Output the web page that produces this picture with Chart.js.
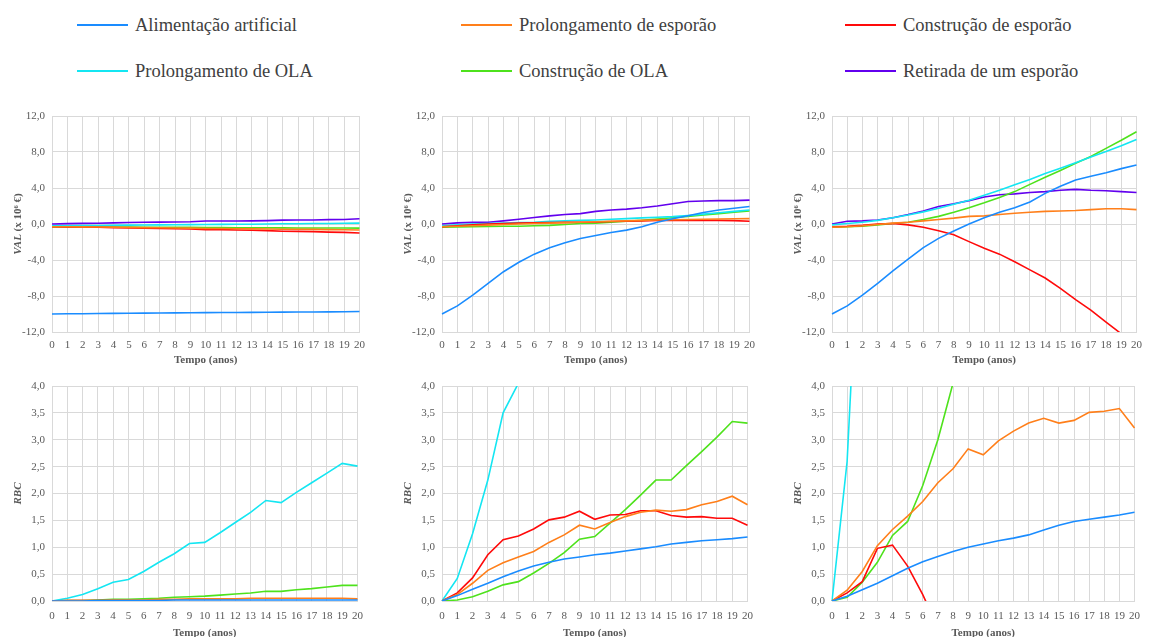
<!DOCTYPE html>
<html lang="pt">
<head>
<meta charset="utf-8">
<title>VAL e RBC das intervenções</title>
<script src="https://cdn.jsdelivr.net/npm/chart.js@4.4.1/dist/chart.umd.min.js"></script>
<style>
  html, body { margin: 0; padding: 0; background: #ffffff; }
  body { position: relative; width: 1149px; height: 637px; overflow: hidden; font-family: "Liberation Serif", "Times New Roman", serif; }
  .panel { position: absolute; }
  .leg { position: absolute; height: 24px; display: flex; align-items: center; white-space: nowrap; }
  .leg .swatch { width: 51px; height: 2px; margin-right: 7px; }
  .leg .txt { font-size: 18.5px; color: #404040; line-height: 24px; }
</style>
</head>
<body>
<div id="legend"></div>
<canvas id="c1" class="panel" width="372" height="267" style="left:0px;top:100px"></canvas>
<canvas id="c2" class="panel" width="372" height="267" style="left:390px;top:100px"></canvas>
<canvas id="c3" class="panel" width="369" height="267" style="left:780px;top:100px"></canvas>
<canvas id="c4" class="panel" width="372" height="270" style="left:0px;top:370px"></canvas>
<canvas id="c5" class="panel" width="372" height="270" style="left:390px;top:370px"></canvas>
<canvas id="c6" class="panel" width="369" height="270" style="left:780px;top:370px"></canvas>

<script>
// ---- categories / tick labels ----
const years = ['0','1','2','3','4','5','6','7','8','9','10','11','12','13','14','15','16','17','18','19','20'];
const seriesNames = ['Alimentação artificial','Prolongamento de esporão','Construção de esporão',
                     'Prolongamento de OLA','Construção de OLA','Retirada de um esporão'];
const valTicks = [-12, -8, -4, 0, 4, 8, 12];
const rbcTicks = [0, 0.5, 1, 1.5, 2, 2.5, 3, 3.5, 4];

// ---- VAL (x 10^6 €), cenário 1 ----
const val1Alim      = [-10.0,-9.98,-9.97,-9.95,-9.93,-9.92,-9.90,-9.89,-9.87,-9.86,-9.85,-9.84,-9.83,-9.82,-9.80,-9.79,-9.78,-9.77,-9.76,-9.75,-9.73];
const val1ProlEsp   = [-0.30,-0.30,-0.32,-0.33,-0.35,-0.38,-0.40,-0.42,-0.44,-0.46,-0.50,-0.50,-0.52,-0.54,-0.56,-0.58,-0.59,-0.60,-0.62,-0.64,-0.66];
const val1ConstEsp  = [-0.30,-0.32,-0.34,-0.36,-0.40,-0.45,-0.48,-0.50,-0.53,-0.56,-0.62,-0.63,-0.66,-0.70,-0.74,-0.80,-0.82,-0.85,-0.90,-0.93,-1.00];
const val1ProlOla   = [-0.20,-0.19,-0.18,-0.16,-0.15,-0.13,-0.11,-0.10,-0.08,-0.07,-0.05,-0.04,-0.03,-0.02,0.00,0.02,0.03,0.05,0.06,0.08,0.10];
const val1ConstOla  = [-0.32,-0.32,-0.33,-0.33,-0.34,-0.35,-0.36,-0.36,-0.37,-0.38,-0.40,-0.40,-0.41,-0.42,-0.42,-0.43,-0.44,-0.44,-0.45,-0.45,-0.46];
const val1Retirada  = [0.00,0.04,0.07,0.09,0.12,0.17,0.20,0.21,0.23,0.25,0.33,0.33,0.34,0.35,0.38,0.43,0.44,0.45,0.49,0.50,0.58];

// ---- VAL (x 10^6 €), cenário 2 ----
const val2Alim      = [-10.0,-9.10,-7.90,-6.60,-5.30,-4.25,-3.35,-2.65,-2.08,-1.62,-1.27,-0.95,-0.68,-0.30,0.20,0.58,0.92,1.28,1.55,1.75,1.95];
const val2ProlEsp   = [-0.30,-0.25,-0.20,-0.12,-0.06,0.00,0.05,0.10,0.15,0.20,0.25,0.30,0.35,0.40,0.45,0.48,0.50,0.53,0.55,0.58,0.60];
const val2ConstEsp  = [-0.30,-0.20,-0.10,0.00,0.05,0.10,0.12,0.15,0.18,0.20,0.22,0.28,0.30,0.35,0.40,0.40,0.40,0.42,0.40,0.38,0.30];
const val2ProlOla   = [-0.20,-0.10,0.00,0.05,0.10,0.15,0.20,0.30,0.35,0.40,0.45,0.52,0.60,0.68,0.75,0.82,0.95,1.10,1.25,1.40,1.55];
const val2ConstOla  = [-0.35,-0.32,-0.30,-0.28,-0.25,-0.25,-0.20,-0.15,-0.05,0.05,0.10,0.20,0.30,0.40,0.55,0.70,0.85,1.00,1.15,1.30,1.45];
const val2Retirada  = [0.00,0.12,0.18,0.20,0.35,0.52,0.72,0.90,1.05,1.15,1.40,1.55,1.65,1.80,2.00,2.25,2.50,2.55,2.60,2.60,2.65];

// ---- VAL (x 10^6 €), cenário 3 ----
const val3Alim      = [-10.0,-9.10,-7.90,-6.60,-5.20,-3.90,-2.63,-1.60,-0.78,0.00,0.70,1.30,1.80,2.44,3.40,4.20,4.90,5.30,5.70,6.15,6.55];
const val3ProlEsp   = [-0.35,-0.30,-0.20,-0.05,0.10,0.20,0.35,0.50,0.65,0.85,0.90,1.05,1.20,1.30,1.40,1.45,1.50,1.60,1.70,1.70,1.60];
const val3ConstEsp  = [-0.30,-0.25,-0.15,0.00,0.05,-0.10,-0.37,-0.75,-1.20,-1.96,-2.70,-3.35,-4.20,-5.10,-6.00,-7.15,-8.40,-9.56,-10.90,-12.20,-13.50];
const val3ProlOla   = [-0.10,0.05,0.20,0.40,0.70,1.00,1.35,1.75,2.20,2.65,3.20,3.75,4.35,4.95,5.60,6.20,6.80,7.45,8.05,8.70,9.40];
const val3ConstOla  = [-0.35,-0.30,-0.25,-0.10,0.05,0.20,0.50,0.85,1.30,1.80,2.35,2.95,3.60,4.40,5.20,5.95,6.75,7.50,8.40,9.30,10.25];
const val3Retirada  = [0.00,0.30,0.35,0.45,0.70,1.05,1.45,1.95,2.25,2.60,3.00,3.25,3.35,3.50,3.60,3.75,3.85,3.75,3.70,3.60,3.50];

// ---- RBC, cenário 1 ----
const rbc1Alim      = [0.00,0.00,0.00,0.01,0.01,0.01,0.01,0.01,0.02,0.02,0.02,0.02,0.02,0.02,0.02,0.02,0.02,0.02,0.02,0.02,0.02];
const rbc1ProlEsp   = [0.00,0.01,0.01,0.01,0.02,0.02,0.02,0.03,0.03,0.04,0.04,0.04,0.04,0.05,0.05,0.05,0.05,0.05,0.05,0.05,0.04];
const rbc1ConstEsp  = [0.00,0.01,0.01,0.01,0.01,0.01,0.00,-0.01,-0.02,-0.03,-0.05,-0.07,-0.09,-0.11,-0.14,-0.17,-0.20,-0.23,-0.27,-0.31,-0.35];
const rbc1ProlOla   = [0.00,0.05,0.12,0.23,0.35,0.40,0.55,0.72,0.88,1.07,1.09,1.27,1.46,1.65,1.87,1.83,2.02,2.20,2.38,2.56,2.51];
const rbc1ConstOla  = [0.00,0.01,0.01,0.02,0.03,0.03,0.04,0.05,0.07,0.08,0.09,0.11,0.13,0.15,0.18,0.18,0.21,0.23,0.26,0.29,0.29];

// ---- RBC, cenário 2 ----
const rbc2Alim      = [0.00,0.10,0.22,0.33,0.45,0.56,0.65,0.72,0.78,0.82,0.86,0.89,0.93,0.97,1.01,1.06,1.09,1.12,1.14,1.16,1.19];
const rbc2ProlEsp   = [0.00,0.12,0.33,0.57,0.71,0.82,0.92,1.09,1.23,1.41,1.34,1.46,1.57,1.65,1.69,1.67,1.70,1.79,1.85,1.95,1.79];
const rbc2ConstEsp  = [0.00,0.15,0.43,0.86,1.14,1.21,1.34,1.51,1.56,1.67,1.52,1.60,1.61,1.68,1.68,1.59,1.56,1.57,1.54,1.54,1.41];
const rbc2ProlOla   = [0.00,0.42,1.25,2.25,3.50,4.05,4.90,5.70,6.60,7.60,7.80,8.70,9.60,10.50,11.60,11.50,12.40,13.30,14.20,15.20,15.00];
const rbc2ConstOla  = [0.00,0.02,0.08,0.18,0.30,0.36,0.52,0.70,0.90,1.15,1.20,1.45,1.70,1.97,2.25,2.25,2.52,2.78,3.05,3.34,3.31];

// ---- RBC, cenário 3 ----
const rbc3Alim      = [0.00,0.09,0.21,0.33,0.47,0.61,0.73,0.83,0.92,1.00,1.06,1.12,1.17,1.23,1.32,1.41,1.48,1.52,1.56,1.60,1.65];
const rbc3ProlEsp   = [0.00,0.20,0.55,1.03,1.33,1.58,1.85,2.20,2.46,2.83,2.72,2.98,3.16,3.31,3.40,3.31,3.36,3.51,3.53,3.58,3.22];
const rbc3ConstEsp  = [0.00,0.15,0.36,0.98,1.04,0.65,0.12,-0.50,-1.20,-1.90,-2.70,-3.50,-4.40,-5.30,-6.30,-7.40,-8.50,-9.70,-11.00,-12.30,-13.70];
const rbc3ProlOla   = [0.00,2.60,8.20,13.50,19.80,25.00,31.50,38.00,44.50,51.00,55.00,61.00,67.00,73.00,79.00,82.00,88.00,94.00,100.0,106.0,108.0];
const rbc3ConstOla  = [0.00,0.07,0.35,0.72,1.22,1.48,2.15,3.00,4.05,5.30,6.00,7.10,8.20,9.40,10.60,11.20,12.40,13.60,14.90,16.20,16.50];

// ---- colours of the six interventions ----
const seriesColors = ['#1a8cff', '#ff7f1a', '#ff0a0a', '#14e6f2', '#4ee21c', '#6200ee'];

// ---- legend ----
const legendSlots = [[77, 13], [461, 13], [845, 13], [77, 59], [461, 59], [845, 59]];
const legendEl = document.getElementById('legend');
seriesNames.forEach((name, i) => {
  const d = document.createElement('div');
  d.className = 'leg';
  d.style.left = legendSlots[i][0] + 'px';
  d.style.top = legendSlots[i][1] + 'px';
  d.innerHTML = '<span class="swatch" style="background:' + seriesColors[i] + '"></span><span class="txt">' + name + '</span>';
  legendEl.appendChild(d);
});

// ---- rotated y-axis title with mixed italic / upright parts ----
const yTitlePlugin = {
  id: 'yTitle',
  afterDraw(chart, args, opts) {
    const { ctx, chartArea } = chart;
    const parts = opts.parts || [];
    const size = opts.size || 11;
    ctx.save();
    let total = 0;
    const fonts = parts.map(p => (p.italic ? 'italic ' : '') + 'bold ' + size + 'px "Liberation Serif", serif');
    parts.forEach((p, i) => { ctx.font = fonts[i]; total += ctx.measureText(p.text).width; });
    const cx = chartArea.left - opts.offset;
    const cy = (chartArea.top + chartArea.bottom) / 2;
    ctx.translate(cx, cy);
    ctx.rotate(-Math.PI / 2);
    ctx.fillStyle = '#595959';
    ctx.textBaseline = 'middle';
    ctx.textAlign = 'left';
    let x = -total / 2;
    parts.forEach((p, i) => {
      ctx.font = fonts[i];
      ctx.fillText(p.text, x, 0);
      x += ctx.measureText(p.text).width;
    });
    ctx.restore();
  }
};

const tickFont = { family: '"Liberation Serif", "Times New Roman", serif', size: 11 };
const gridColor = '#d9d9d9';
const fmt = v => Number(v).toFixed(1).replace('.', ',');

function makeDatasets(list) {
  return list.map(([idx, data]) => ({
    label: seriesNames[idx],
    data: data,
    borderColor: seriesColors[idx],
    backgroundColor: seriesColors[idx],
    borderWidth: 1.6,
    pointRadius: 0,
    pointHoverRadius: 0,
    tension: 0,
    fill: false
  }));
}

function makeChart(id, datasets, yMin, yMax, yStep, titleParts, xAxisHeight, rightPad, xTickPad) {
  return new Chart(document.getElementById(id), {
    type: 'line',
    data: { labels: years, datasets: makeDatasets(datasets) },
    plugins: [yTitlePlugin],
    options: {
      responsive: false,
      animation: false,
      events: [],
      layout: { padding: { top: 16, right: rightPad, left: 0, bottom: 0 } },
      plugins: {
        legend: { display: false },
        tooltip: { enabled: false },
        yTitle: { parts: titleParts, size: 11, offset: 34 }
      },
      scales: {
        x: {
          type: 'category',
          offset: false,
          grid: { color: gridColor, drawTicks: false, offset: false },
          border: { color: gridColor },
          ticks: { color: '#595959', font: tickFont, autoSkip: false, maxRotation: 0, minRotation: 0, padding: xTickPad },
          title: { display: true, text: 'Tempo (anos)', color: '#595959',
                   font: { family: '"Liberation Serif", serif', size: 11, weight: 'bold' },
                   padding: { top: 0, bottom: 0 } },
          afterFit: s => { s.height = xAxisHeight; }
        },
        y: {
          min: yMin, max: yMax,
          grid: { color: gridColor, drawTicks: false },
          border: { color: gridColor },
          ticks: { stepSize: yStep, color: '#595959', font: tickFont, padding: 7, callback: v => fmt(v) },
          afterFit: s => { s.width = 52; }
        }
      }
    }
  });
}

const valTitle = [{ text: 'VAL', italic: true }, { text: ' (x 10\u2076 \u20AC)', italic: false }];
const rbcTitle = [{ text: 'RBC', italic: true }];

makeChart('c1', [[0, val1Alim], [1, val1ProlEsp], [2, val1ConstEsp], [3, val1ProlOla], [4, val1ConstOla], [5, val1Retirada]],
          valTicks[0], valTicks[valTicks.length - 1], 4, valTitle, 35, 10, 7);
makeChart('c2', [[0, val2Alim], [1, val2ProlEsp], [2, val2ConstEsp], [3, val2ProlOla], [4, val2ConstOla], [5, val2Retirada]],
          valTicks[0], valTicks[valTicks.length - 1], 4, valTitle, 35, 10, 7);
makeChart('c3', [[0, val3Alim], [1, val3ProlEsp], [2, val3ConstEsp], [3, val3ProlOla], [4, val3ConstOla], [5, val3Retirada]],
          valTicks[0], valTicks[valTicks.length - 1], 4, valTitle, 35, 7, 7);
makeChart('c4', [[0, rbc1Alim], [1, rbc1ProlEsp], [2, rbc1ConstEsp], [3, rbc1ProlOla], [4, rbc1ConstOla]],
          rbcTicks[0], rbcTicks[rbcTicks.length - 1], 0.5, rbcTitle, 39, 10, 9);
makeChart('c5', [[0, rbc2Alim], [1, rbc2ProlEsp], [2, rbc2ConstEsp], [3, rbc2ProlOla], [4, rbc2ConstOla]],
          rbcTicks[0], rbcTicks[rbcTicks.length - 1], 0.5, rbcTitle, 39, 10, 9);
makeChart('c6', [[0, rbc3Alim], [1, rbc3ProlEsp], [2, rbc3ConstEsp], [3, rbc3ProlOla], [4, rbc3ConstOla]],
          rbcTicks[0], rbcTicks[rbcTicks.length - 1], 0.5, rbcTitle, 39, 7, 9);
</script>
</body>
</html>
